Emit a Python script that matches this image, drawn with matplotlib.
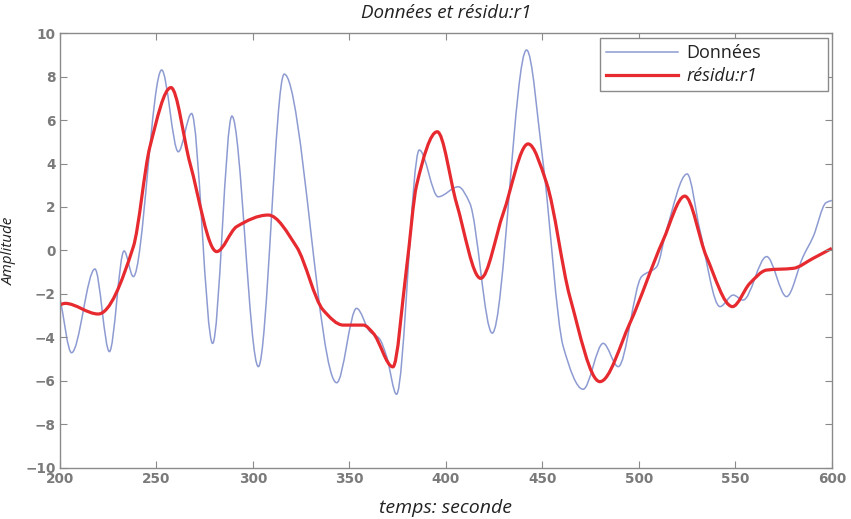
import numpy as np
import matplotlib
matplotlib.use('Agg')
import matplotlib.pyplot as plt
from matplotlib.path import Path
from matplotlib.patches import PathPatch
from matplotlib.lines import Line2D

# ── Values (time in s, amplitude) ──
donnees_t = [200, 206, 218.1, 225.6, 233.2, 238, 252.7, 261.3, 268.2, 279.1,
             289.1, 302.8, 316.2, 343.4, 353.7, 360.6, 365.5, 369.3, 374.4,
             386.2, 396, 406.4, 412.4, 424, 441.8, 450.4, 460.8, 471.1, 481.5,
             489.3, 501.4, 509.2, 514.3, 525, 531.6, 542, 548.9, 554, 566.2,
             576.5, 585.1, 590.3, 597, 600]
donnees_a = [-2.2, -4.7, -0.85, -4.65, -0.02, -1.2, 8.3, 4.54, 6.3, -4.27,
             6.18, -5.34, 8.11, -6.08, -2.66, -3.73, -4.05, -4.88, -6.61,
             4.62, 2.47, 2.93, 2.17, -3.8, 9.22, 4.0, -4.42, -6.38, -4.27,
             -5.34, -1.2, -0.75, 0.94, 3.52, 0.94, -2.58, -2.05, -2.28, -0.28,
             -2.12, -0.28, 0.63, 2.2, 2.3]

residu_t = [200, 202.6, 219.8, 238, 246.6, 257.5, 267.4, 281.2, 291.6, 307.9,
            322.6, 336.4, 346.8, 357.2, 362.3, 372.5, 379.6, 384.8, 395.5,
            405.5, 418, 429.7, 442.6, 452.2, 464.2, 479.8, 495.3, 512.6, 523.8,
            535, 548.5, 557.5, 566.2, 580, 590.3, 600]
residu_a = [-2.5, -2.43, -2.92, 0.17, 4.77, 7.49, 4.0, -0.05, 1.1, 1.63,
            0.17, -2.74, -3.43, -3.43, -3.8, -5.35, -0.8, 3.0, 5.46,
            2.17, -1.28, 1.71, 4.9, 3.09, -2.12, -6.03, -3.35, 0.48, 2.5,
            -0.28, -2.58, -1.51, -0.9, -0.82, -0.36, 0.1]

x_ticks = [200, 250, 300, 350, 400, 450, 500, 550, 600]
y_ticks = [-10, -8, -6, -4, -2, 0, 2, 4, 6, 8, 10]

BLUE = '#8d9bd2'
RED = '#e62a2f'
GREY = '#8a8a8a'
TXT = '#222222'


def smooth_path(xs, ys):
    """Monotone cubic Bezier path through the read points (line style only)."""
    x = np.asarray(xs, float)
    y = np.asarray(ys, float)
    h = np.diff(x)
    d = np.diff(y) / h
    m = np.zeros_like(y)
    m[0], m[-1] = d[0], d[-1]
    for k in range(1, len(x) - 1):
        if d[k - 1] * d[k] > 0:
            w1 = 2 * h[k] + h[k - 1]
            w2 = h[k] + 2 * h[k - 1]
            m[k] = (w1 + w2) / (w1 / d[k - 1] + w2 / d[k])
    verts = [(x[0], y[0])]
    codes = [Path.MOVETO]
    for k in range(len(x) - 1):
        verts += [(x[k] + h[k] / 3, y[k] + m[k] * h[k] / 3),
                  (x[k + 1] - h[k] / 3, y[k + 1] - m[k + 1] * h[k] / 3),
                  (x[k + 1], y[k + 1])]
        codes += [Path.CURVE4] * 3
    return Path(verts, codes)


fig = plt.figure(figsize=(8.51, 5.19), dpi=100)
fig.patch.set_facecolor('white')
ax = fig.add_axes([0.0705, 0.0983, 0.907, 0.8381])

ax.add_patch(PathPatch(smooth_path(donnees_t, donnees_a), fill=False,
                       edgecolor=BLUE, linewidth=1.1))
ax.add_patch(PathPatch(smooth_path(residu_t, residu_a), fill=False,
                       edgecolor=RED, linewidth=2.3))

ax.set_xlim(200, 600)
ax.set_ylim(-10, 10)
ax.set_xticks(x_ticks)
ax.set_yticks(y_ticks)
ax.set_yticklabels([str(v).replace('-', '\u2212') for v in y_ticks])
ax.tick_params(direction='in', length=5, width=0.8, color=GREY,
               top=True, right=True, labelsize=9.8, labelcolor='#7a7a7a', pad=3)
for lab in ax.get_xticklabels() + ax.get_yticklabels():
    lab.set_family('DejaVu Sans')
    lab.set_weight('bold')
for spine in ax.spines.values():
    spine.set_color(GREY)
    spine.set_linewidth(1.0)

ax.set_title('Données et résidu:r1', family='Open Sans', style='italic',
             fontsize=13.5, color=TXT, pad=11)
ax.set_xlabel('temps: seconde', family='Open Sans', style='italic',
              fontsize=14, color=TXT, labelpad=9)
ax.set_ylabel('Amplitude', family='Open Sans', style='italic',
              fontsize=11, color=TXT, labelpad=6)

handles = [Line2D([], [], color=BLUE, linewidth=1.1),
           Line2D([], [], color=RED, linewidth=2.3)]
leg = ax.legend(handles, ['Données', 'résidu:r1'], loc='upper left',
                bbox_to_anchor=(0.6995, 0.9885, 0.2953, 0.0), mode='expand',
                fancybox=False, framealpha=1, edgecolor=GREY,
                handlelength=4.0, handletextpad=0.45, borderaxespad=0,
                borderpad=0.35, labelspacing=0.25,
                prop={'family': 'Open Sans', 'size': 13})
leg.get_frame().set_linewidth(1.0)
leg.get_texts()[1].set_style('italic')
for t in leg.get_texts():
    t.set_color(TXT)

fig.savefig('out.png', dpi=100, facecolor='white')
